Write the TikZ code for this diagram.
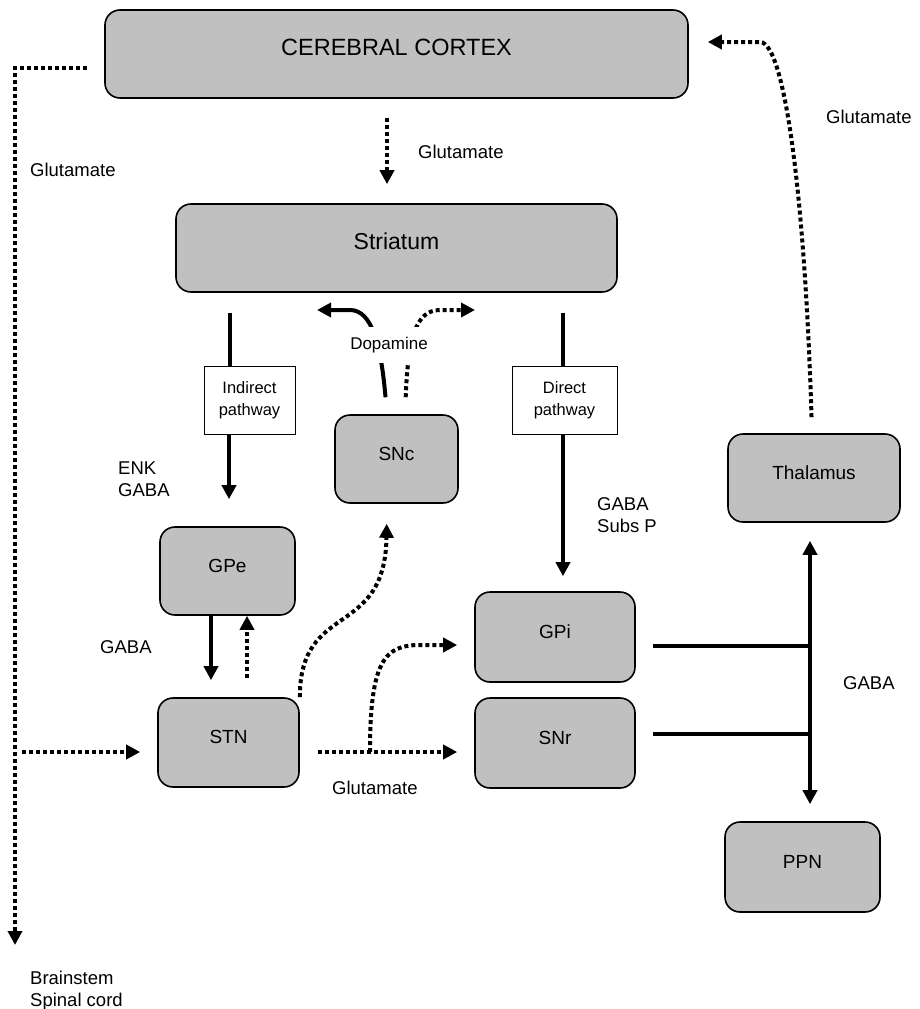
\documentclass[tikz,border=0pt]{standalone}
\usepackage{fontspec}
\setmainfont{Liberation Sans}
\usetikzlibrary{arrows.meta}

\begin{document}
\begin{tikzpicture}[x=1pt,y=1pt,yscale=-1,xscale=1,
  area/.style={draw, line width=1.6pt, fill={rgb, 255:red, 192; green, 192; blue, 192}, rounded corners=15pt, inner sep=0pt, text height=14pt, text depth=12pt, font=\fontsize{19}{22}\selectfont},
  pathbox/.style={draw, line width=1pt, fill=white, align=center, inner sep=0pt, font=\fontsize{16.5}{22}\selectfont},
  lbl/.style={anchor=west, align=left, inner sep=0pt, font=\fontsize{18.5}{22}\selectfont},
  tip/.style={-{Triangle[length=14pt 0 0,width=14pt 0 0]}},
  solidarrow/.style={line width=4pt, tip},
  dotarrow/.style={line width=4pt, dash pattern=on 4pt off 3pt, tip},
]
\useasboundingbox (0,0) rectangle (919,1009);

%Rounded Rect
\node[area, minimum width=583pt, minimum height=88pt, font=\fontsize{23.5}{28}\selectfont] (cortex) at (396.5,54) {CEREBRAL CORTEX};
%Rounded Rect
\node[area, minimum width=441pt, minimum height=88pt, font=\fontsize{23}{28}\selectfont] (striatum) at (396.5,248) {Striatum};
%Rounded Rect
\node[area, minimum width=123pt, minimum height=88pt] (snc) at (396.5,459) {SNc};
%Rounded Rect
\node[area, minimum width=135pt, minimum height=88pt] (gpe) at (227.5,571) {GPe};
%Rounded Rect
\node[area, minimum width=141pt, minimum height=89pt] (stn) at (228.5,742.5) {STN};
%Rounded Rect
\node[area, minimum width=160pt, minimum height=90pt] (gpi) at (555,637) {GPi};
%Rounded Rect
\node[area, minimum width=160pt, minimum height=90pt] (snr) at (555,743) {SNr};
%Rounded Rect
\node[area, minimum width=172pt, minimum height=88pt] (thalamus) at (814,478) {Thalamus};
%Rounded Rect
\node[area, minimum width=155pt, minimum height=90pt] (ppn) at (802.5,867) {PPN};

%Shape: Rectangle
\node[pathbox, minimum width=91pt, minimum height=68pt] (indirect) at (249.5,400) {Indirect\\pathway};
%Shape: Rectangle
\node[pathbox, minimum width=105pt, minimum height=68pt] (direct) at (564.5,400) {Direct\\pathway};

%free ends
\coordinate (spinal) at (15,945);
\coordinate (stnin) at (22,752);
\coordinate (split) at (370,752);
\coordinate (gpijoin) at (810,646);
\coordinate (snrjoin) at (810,734);
\coordinate (dopaleft) at (317,310);
\coordinate (doparight) at (475,310);

%Straight Lines
\draw[dotarrow, shorten <=19pt, shorten >=19pt] (cortex.south -| 387,0) -- (striatum.north -| 387,0);
%Straight Lines
\draw[dotarrow, shorten <=17pt] (cortex.west |- 0,68) -| (spinal);
%Straight Lines
\draw[dotarrow, shorten >=17pt] (stnin) -- (stn.west |- stnin);
%Curve Lines
\draw[dotarrow, shorten <=16pt, shorten >=19pt] (thalamus.north -| 812,0) .. controls (805,200) and (785,42) .. (760,42) -- (cortex.east |- 0,42);

%Straight Lines
\draw[line width=4pt, shorten <=20pt] (striatum.south -| 230,0) -- (indirect.north -| 230,0);
\draw[solidarrow, shorten >=27pt] (indirect.south -| 229,0) -- (gpe.north -| 229,0);
%Straight Lines
\draw[line width=4pt, shorten <=20pt] (striatum.south -| 563,0) -- (direct.north -| 563,0);
\draw[solidarrow, shorten >=15pt] (direct.south -| 563,0) -- (gpi.north -| 563,0);

%Straight Lines
\draw[solidarrow, shorten >=17pt] (gpe.south -| 211,0) -- (stn.north -| 211,0);
\draw[dotarrow, shorten <=19pt] (stn.north -| 247,0) -- (gpe.south -| 247,0);
%Curve Lines
\draw[dotarrow, shorten >=20pt] (stn.north east) .. controls (300,600) and (385,640) .. (snc.south -| 387,0);

%Straight Lines
\draw[dotarrow, shorten <=18pt, shorten >=17pt] (stn.east |- split) -- (snr.west |- split);
%Curve Lines
\draw[dotarrow, shorten >=17pt] (split) .. controls (370,660) and (385,645) .. (420,645) -- (gpi.west |- 0,645);

%Straight Lines
\draw[line width=4pt, shorten <=17pt] (gpi.east |- gpijoin) -- (gpijoin);
\draw[line width=4pt, shorten <=17pt] (snr.east |- snrjoin) -- (snrjoin);
\draw[line width=4pt, {Triangle[length=14pt 0 0,width=14pt 0 0]}-{Triangle[length=14pt 0 0,width=14pt 0 0]}, shorten <=18pt, shorten >=17pt] (thalamus.south -| gpijoin) -- (ppn.north -| gpijoin);

%Curve Lines
\draw[solidarrow, shorten <=17pt] (snc.north -| 387,0) .. controls (381,345) and (372,310) .. (350,310) -- (dopaleft);
\draw[dotarrow, shorten <=17pt] (snc.north -| 405,0) .. controls (408,340) and (415,310) .. (440,310) -- (doparight);
\node[fill=white, inner xsep=2pt, inner ysep=10pt, font=\fontsize{17}{20}\selectfont] (dopamine) at (389,345) {Dopamine};

%Text
\node[lbl] (gluleft) at (30,170) {Glutamate};
\node[lbl] (glutop) at (418,152) {Glutamate};
\node[lbl] (gluright) at (826,117) {Glutamate};
\node[lbl] (enk) at (118,479) {ENK\\GABA};
\node[lbl] (subsp) at (597,515) {GABA\\Subs P};
\node[lbl] (gabagpe) at (100,647) {GABA};
\node[lbl] (glustn) at (332,788) {Glutamate};
\node[lbl] (gabaout) at (843,683) {GABA};
\node[lbl] (brainstem) at (30,991) {Brainstem\\Spinal cord};
\end{tikzpicture}
\end{document}
